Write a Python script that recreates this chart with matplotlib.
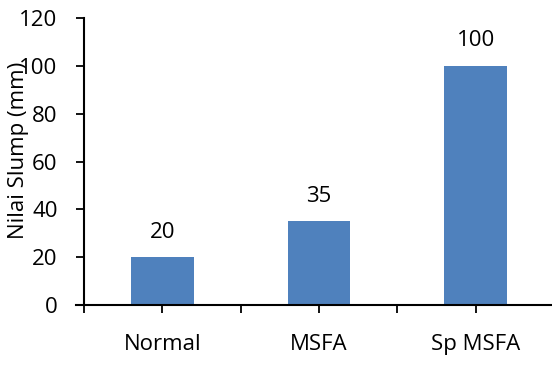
import matplotlib
matplotlib.use("Agg")
import matplotlib.pyplot as plt
from matplotlib.ticker import FixedLocator

plt.rcParams['font.family'] = ['Open Sans', 'DejaVu Sans']

categories = ["Normal", "MSFA", "Sp MSFA"]
slump = [20, 35, 100]
y_ticks = [0, 20, 40, 60, 80, 100, 120]

FS = 16

fig = plt.figure(figsize=(5.52, 3.65), dpi=100)
W, H = 552, 365
ax = fig.add_axes([84 / W, 1 - 305 / H, (554 - 84) / W, (305 - 18) / H])

x = list(range(len(categories)))
ax.bar(x, slump, width=0.4, color="#4F81BD", zorder=2)

for xi, v in zip(x, slump):
    ax.annotate(f"{v}", (xi, v), xytext=(0, 18), textcoords="offset points",
                ha="center", va="center", fontsize=FS, color="#000000")

ax.set_xlim(-0.5, 2.5)
ax.set_ylim(0, 120)
ax.set_yticks(y_ticks)
ax.set_xticks(x)
ax.set_xticklabels(categories)
ax.xaxis.set_minor_locator(FixedLocator([-0.5, 0.5, 1.5, 2.5]))

for s in ["top", "right"]:
    ax.spines[s].set_visible(False)
ax.spines["left"].set_linewidth(1.5)
ax.spines["bottom"].set_linewidth(1.5)
ax.spines["bottom"].set_bounds(-0.55, 2.5)

ax.tick_params(axis="y", direction="out", length=6, width=1.3, pad=13, labelsize=FS)
ax.tick_params(axis="x", which="both", direction="out", length=6, width=1.3,
               pad=15, labelsize=FS)

ax.set_ylabel("Nilai Slump (mm)", fontsize=FS, va="center")
ax.yaxis.set_label_coords(19 / W, 1 - 150 / H, transform=fig.transFigure)

fig.savefig("out.png", dpi=100)
